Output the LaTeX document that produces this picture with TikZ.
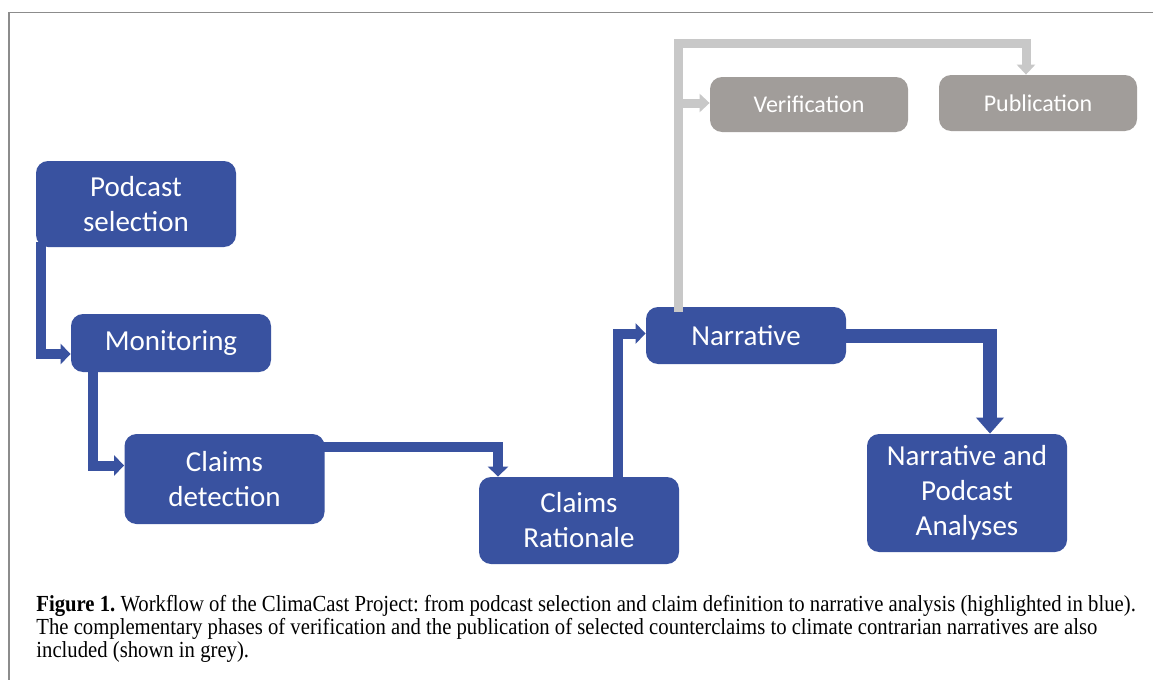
\documentclass[tikz,border=0pt]{standalone}
\usepackage{fontspec}
\setmainfont{Carlito}
\newfontfamily\captionfont[FakeStretch=0.9]{Liberation Serif}
\usetikzlibrary{arrows.meta,calc}

\definecolor{flowblue}{RGB}{57,82,160}
\definecolor{phasegrey}{RGB}{161,157,154}
\definecolor{linkgrey}{RGB}{200,200,200}
\definecolor{framegrey}{RGB}{140,140,140}

\begin{document}
\frenchspacing
\begin{tikzpicture}[x=0.5pt,y=-0.5pt,
        phase/.style={rounded corners=6pt,fill=flowblue,text=white,align=center,
            inner sep=0pt,minimum width=100pt,font=\fontsize{14.5}{17.5}\selectfont},
        sidephase/.style={phase,fill=phasegrey,minimum width=99pt,
            font=\fontsize{12}{14}\selectfont},
        flow/.style={draw=flowblue,line width=5pt,-{Triangle[width=10pt,length=5pt]}},
        link/.style={draw=linkgrey,line width=4.5pt,-{Triangle[width=9pt,length=5pt]}}]

            \fill[white] (0,0) rectangle (1153,680);
            \useasboundingbox (0,0) rectangle (1153,680);
            \draw[framegrey,line width=0.8pt] (9,680) -- (9,12.5) -- (1153,12.5);

            \node[phase,minimum height=43pt] (pod) at (136,204) {Podcast\\selection};
            \node[phase,minimum height=29pt] (mon) at (171,343) {Monitoring};
            \node[phase,minimum height=45pt] (det) at (224.5,479) {Claims\\detection};
            \node[phase,minimum height=43.5pt] (rat) at (579,520.5) {Claims\\Rationale};
            \node[phase,minimum height=28.5pt] (nar) at (746,335.5) {Narrative};
            \node[phase,minimum height=59pt] (ana) at (967,493) {Narrative and\\Podcast\\Analyses};
            \node[sidephase,minimum height=27.5pt] (ver) at (809,104.5) {Verification};
            \node[sidephase,minimum height=28pt] (pub) at (1038,103) {Publication};

            \coordinate (rail) at (1026,43.5);

            \draw[flow] ($(pod.south west)+(5,-5)$) |- ($(mon.west)+(0,11)$);
            \draw[flow] ($(mon.south west)+(22.5,-5)$) |- ($(det.west)+(0,-13.5)$);
            \draw[flow] ($(det.east)+(-5,-32)$) -| ($(rat.north)+(-81,0)$);
            \draw[flow] ($(rat.north west)+(139,5)$) |- ($(nar.west)+(0,-2)$);
            \draw[flow,line width=7pt,-{Triangle[width=13.5pt,length=8pt]}]
                ($(nar.east)+(-5,0)$) -| ($(ana.north)+(23,0)$);

            \draw[link] ($(nar.north west)+(32.5,5)$) |- (rail) -- ($(pub.north)+(-12,0)$);
            \draw[link] ($(ver.west)+(-33.75,-1.5)$) -- ($(ver.west)+(0,-1.5)$);

            \node[anchor=north west,inner sep=0pt,align=left,text=black,
                font=\captionfont\fontsize{11.5}{11.5}\selectfont] (caption) at (36,595)
                {\textbf{Figure 1.} Workflow of the ClimaCast Project: from podcast selection and claim definition to narrative analysis (highlighted in blue).\\
                The complementary phases of verification and the publication of selected counterclaims to climate contrarian narratives are also\\
                included (shown in grey).};
\end{tikzpicture}
\end{document}
